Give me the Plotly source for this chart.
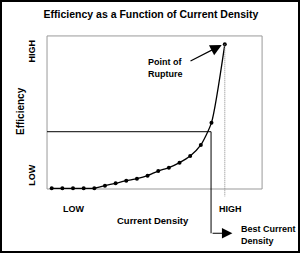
import plotly.graph_objects as go

# ---- data ----
current_density = [0, 1, 2, 3, 4, 5, 6, 7, 8, 9, 10, 11, 12, 13, 14, 15, 16.25]
efficiency = [0, 0, 0, 0, 0, 1.8, 3.5, 5.3, 6.7, 8.8, 12.0, 14.3, 17.8, 22.4, 30.1, 45.6, 100]
best_point = (14.96, 39.3)
rupture_point = (16.25, 100)
box_x = [-0.44, 19.75]
box_y = [-0.49, 105.8]
x_range = [-4.854, 23.31]
y_range = [-44.93, 130.76]

FONT = "Liberation Sans, Arial, sans-serif"

fig = go.Figure()

# curve with markers
fig.add_trace(go.Scatter(
    x=current_density, y=efficiency, mode="lines+markers",
    line=dict(color="black", width=1.3, shape="spline", smoothing=0.6),
    marker=dict(color="black", size=4),
    hoverinfo="skip", showlegend=False))

shapes = []
# plot box
shapes.append(dict(type="rect", xref="x", yref="y", x0=box_x[0], x1=box_x[1],
                   y0=box_y[0], y1=box_y[1], line=dict(color="#999999", width=1), layer="below"))
# horizontal guide to best point
shapes.append(dict(type="line", xref="x", yref="y", x0=box_x[0], x1=best_point[0],
                   y0=best_point[1], y1=best_point[1], line=dict(color="black", width=1)))
# vertical line from best point down
shapes.append(dict(type="line", xref="x", yref="y", x0=best_point[0], x1=best_point[0],
                   y0=best_point[1], y1=-31.25, line=dict(color="black", width=1)))
# dotted line below rupture point
shapes.append(dict(type="line", xref="x", yref="y", x0=rupture_point[0], x1=rupture_point[0],
                   y0=rupture_point[1], y1=-5.8, line=dict(color="#888888", width=1, dash="1px,1px")))
# outer border
shapes.append(dict(type="rect", xref="paper", yref="paper", x0=0, x1=1, y0=0, y1=1,
                   line=dict(color="black", width=4)))

ann = []
def txt(x, y, t, size=9, angle=0, xanchor="center", align="center"):
    ann.append(dict(x=x, y=y, xref="x", yref="y", text=f"<b>{t}</b>", showarrow=False,
                    textangle=angle, xanchor=xanchor, yanchor="middle", align=align,
                    font=dict(family=FONT, size=size, color="black")))

txt(-1.82, 95.3, "HIGH", angle=-90)
txt(-1.82, 8.9, "LOW", angle=-90)
txt(-2.93, 54, "Efficiency", size=10, angle=-90)
txt(2.03, -14.4, "LOW")
txt(16.79, -14.4, "HIGH")
txt(9.5, -22.3, "Current Density", size=9.5)
txt(8.86, 83.2, "Point of<br>Rupture", xanchor="left", align="left")
txt(17.59, -32.5, "Best Current<br>Density", xanchor="left", align="left")

# arrows
ann.append(dict(x=15.96, y=99.5, ax=12.89, ay=87.9, xref="x", yref="y", axref="x", ayref="y",
                text="", showarrow=True, arrowhead=2, arrowsize=1.9, arrowwidth=1.2,
                arrowcolor="black", standoff=0))
ann.append(dict(x=16.96, y=-31.25, ax=best_point[0], ay=-31.25, xref="x", yref="y",
                axref="x", ayref="y", text="", showarrow=True, arrowhead=2, arrowsize=1.9,
                arrowwidth=1.1, arrowcolor="black", standoff=0))

fig.update_layout(
    width=300, height=253,
    margin=dict(l=0, r=0, t=0, b=0),
    paper_bgcolor="white", plot_bgcolor="white",
    shapes=shapes, annotations=ann,
    title=dict(text="<b>Efficiency as a Function of Current Density</b>",
               x=0.503, xanchor="center", y=0.945, yanchor="middle",
               font=dict(family=FONT, size=10.5, color="black")),
    xaxis=dict(range=x_range, visible=False, fixedrange=True),
    yaxis=dict(range=y_range, visible=False, fixedrange=True),
)

fig.write_html("out.html", config={"displayModeBar": False})
